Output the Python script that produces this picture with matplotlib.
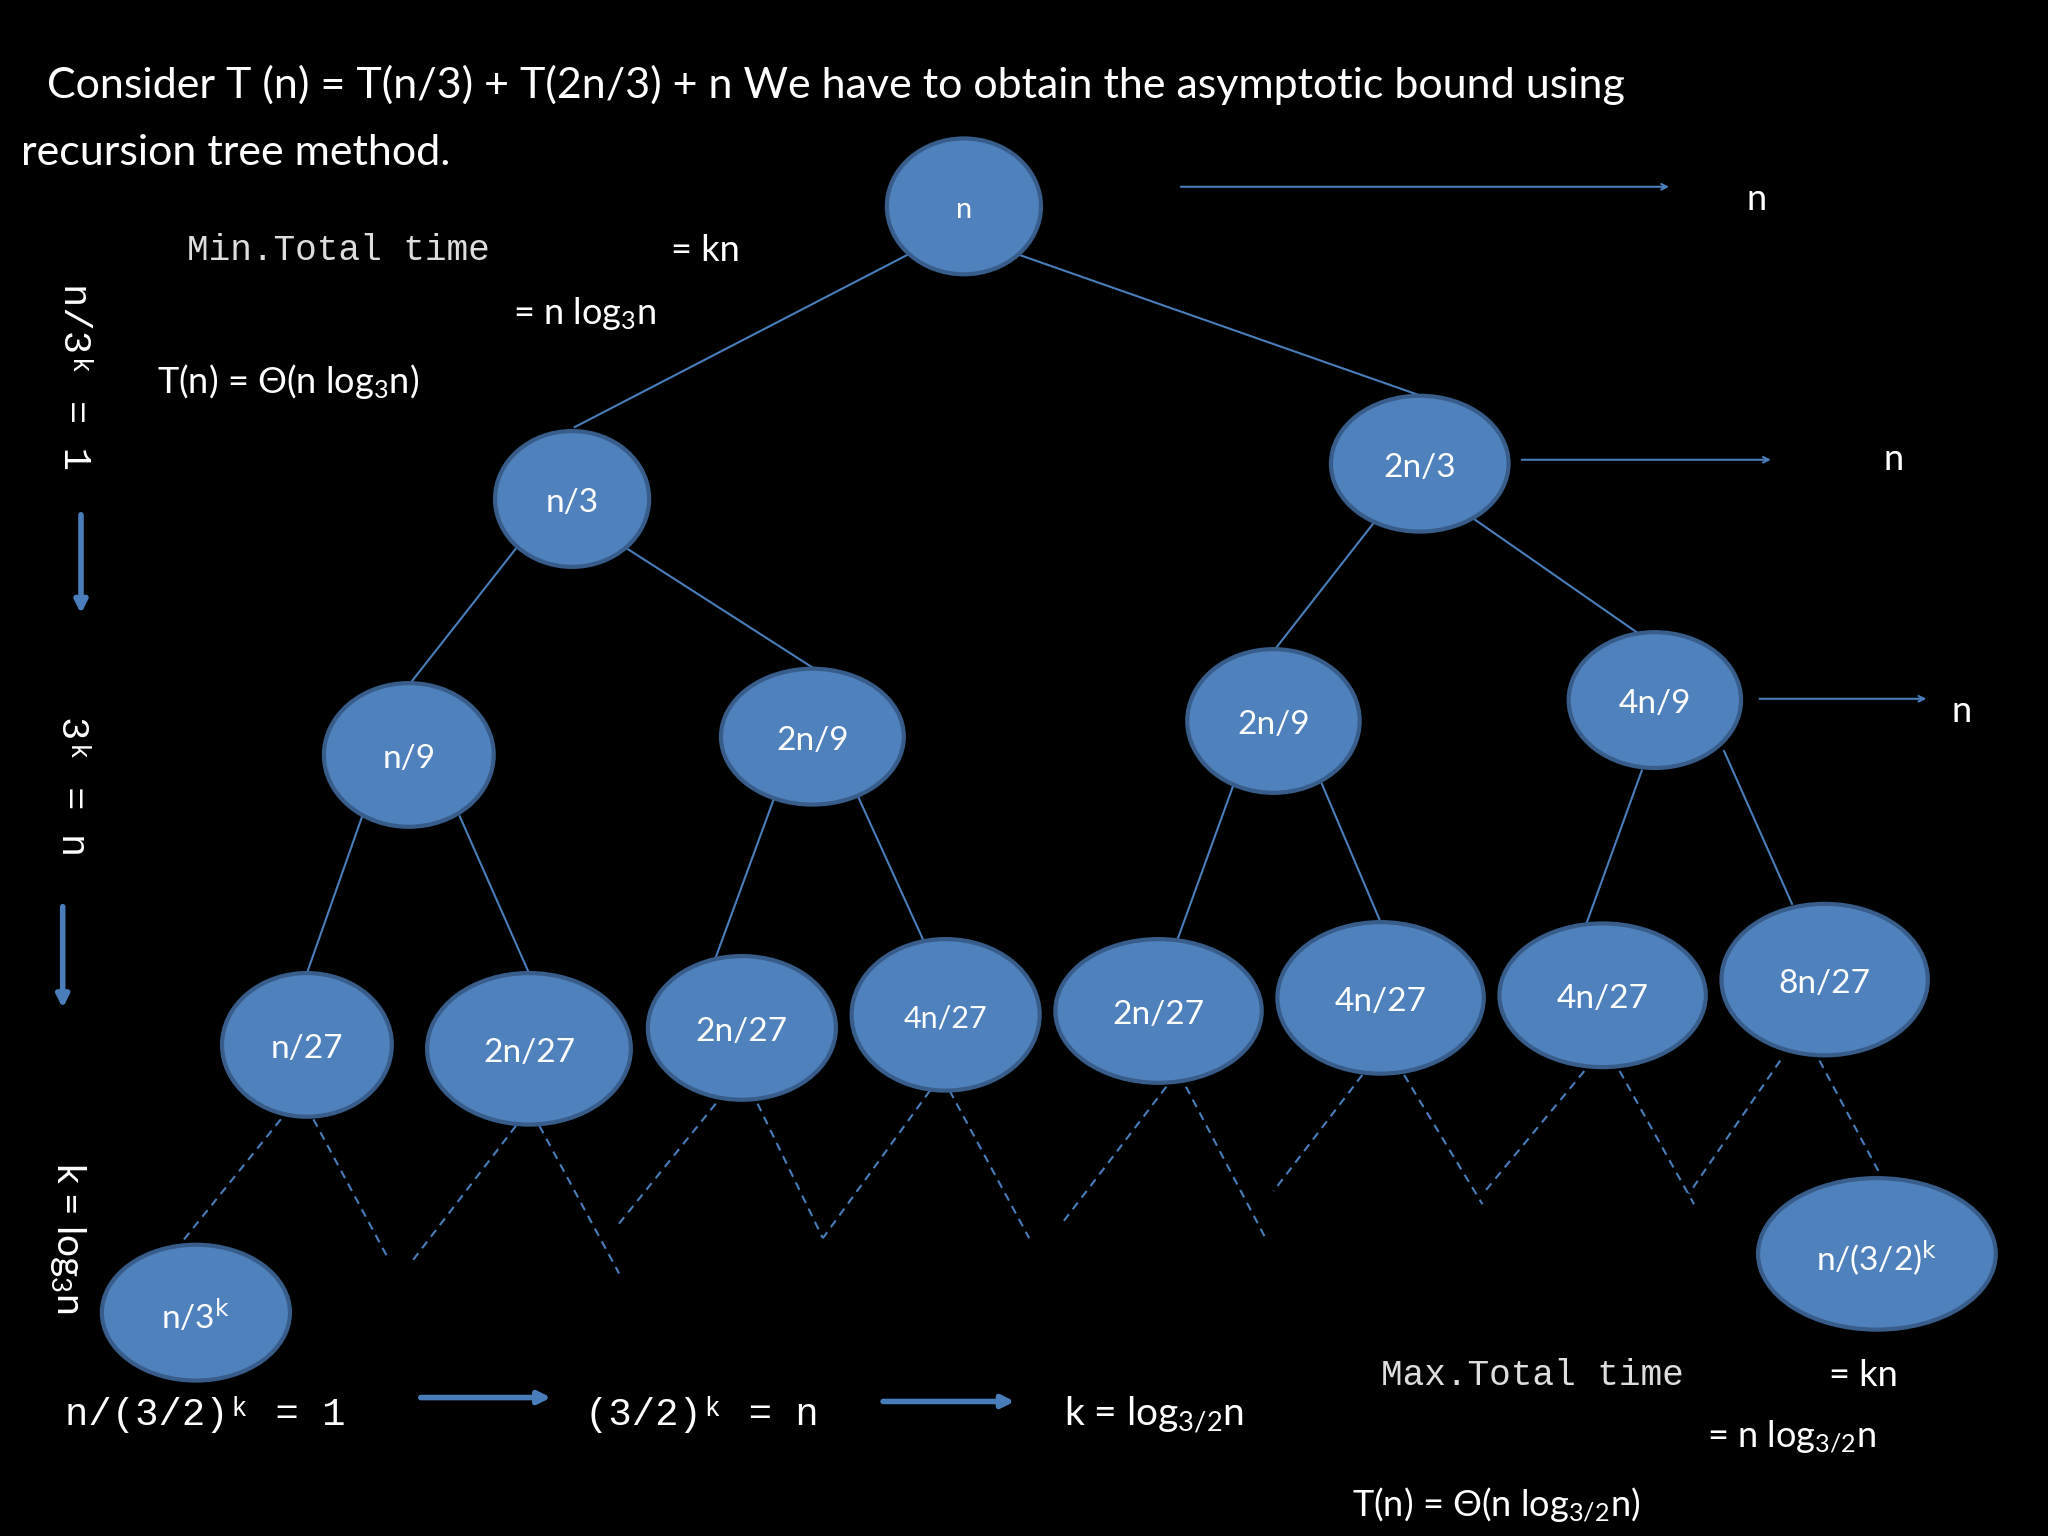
import matplotlib
matplotlib.use("Agg")
import matplotlib.pyplot as plt
from matplotlib.patches import Ellipse

plt.rcParams['font.family'] = ['Lato', 'DejaVu Sans']
plt.rcParams['mathtext.fontset'] = 'custom'
plt.rcParams['mathtext.rm'] = 'Lato'
plt.rcParams['mathtext.it'] = 'Lato'

W, H = 1568, 1176
FILL, EDGE, LINE = "#4f81bd", "#385d8a", "#4a7ebb"
MONO = "Liberation Mono"

# nodes: label, x, y, width, height
node_labels = ["n", "n/3", "2n/3", "n/9", "2n/9", "2n/9", "4n/9",
               "n/27", "2n/27", "2n/27", "4n/27", "2n/27", "4n/27", "4n/27", "8n/27",
               "n/3$^{\\mathsf{k}}$", "n/(3/2)$^{\\mathsf{k}}$"]
node_x = [738, 438, 1087, 313, 622, 975, 1267, 235, 405, 568, 724, 887, 1057, 1227, 1397, 150, 1437]
node_y = [158, 382, 355, 578, 564, 552, 536, 800, 803, 787, 777, 774, 764, 762, 750, 1005, 960]
node_w = [118, 118, 136, 130, 140, 132, 132, 130, 156, 144, 144, 158, 158, 158, 158, 144, 182]
node_h = [104, 104, 104, 110, 104, 110, 104, 110, 116, 110, 116, 110, 116, 110, 116, 104, 116]
node_fs = [17, 20, 20, 20, 20, 20, 20, 20, 20, 20, 18, 20, 20, 20, 20, 20, 20]

solid_edges = [((695, 195), (440, 327)), ((780, 195), (1085, 302)),
               ((395, 420), (315, 522)), ((480, 420), (622, 511)),
               ((1052, 400), (977, 496)), ((1128, 397), (1253, 484)),
               ((278, 623), (235, 745)), ((352, 625), (405, 745)),
               ((592, 613), (548, 733)), ((657, 610), (707, 720)),
               ((944, 602), (902, 718)), ((1012, 600), (1057, 706)),
               ((1257, 590), (1215, 706)), ((1320, 575), (1372, 692))]
dashed_edges = [((215, 857), (140, 950)), ((240, 857), (298, 965)),
                ((395, 862), (316, 965)), ((413, 862), (474, 975)),
                ((548, 845), (473, 938)), ((580, 845), (630, 948)),
                ((712, 835), (630, 948)), ((727, 835), (788, 948)),
                ((893, 832), (812, 938)), ((908, 832), (970, 950)),
                ((1043, 823), (975, 912)), ((1075, 823), (1135, 922)),
                ((1213, 820), (1137, 912)), ((1240, 820), (1297, 922)),
                ((1363, 812), (1293, 914)), ((1393, 812), (1440, 900))]
level_arrows = [((902, 143), (1280, 143)), ((1163, 352), (1358, 352)), ((1345, 535), (1477, 535))]
level_sums = [(1345, 153), (1450, 352), (1502, 545)]

fig = plt.figure(figsize=(20.48, 15.36), dpi=100, facecolor="black")
ax = fig.add_axes([0, 0, 1, 1])
ax.set_xlim(0, W)
ax.set_ylim(H, 0)
ax.set_facecolor("black")
ax.axis("off")

for (a, b) in solid_edges:
    ax.plot([a[0], b[0]], [a[1], b[1]], color=LINE, lw=1.5)
for (a, b) in dashed_edges:
    ax.plot([a[0], b[0]], [a[1], b[1]], color=LINE, lw=1.5, ls=(0, (4, 3)))
for (a, b) in level_arrows:
    ax.annotate("", xy=b, xytext=a, arrowprops=dict(arrowstyle="->", color=LINE, lw=1.5))
for (x, y) in level_sums:
    ax.text(x, y, "n", color="white", fontsize=26, ha="center", va="center")

for lab, x, y, w, h, fs in zip(node_labels, node_x, node_y, node_w, node_h, node_fs):
    ax.add_patch(Ellipse((x, y), w, h, facecolor=FILL, edgecolor=EDGE, lw=3, zorder=3))
    ax.text(x, y + 3, lab, color="white", fontsize=fs + 4, ha="center", va="center", zorder=4)

# title
ax.text(36, 65, "Consider T (n) = T(n/3) + T(2n/3) + n We have to obtain the asymptotic bound using",
        color="white", fontsize=31, va="center")
ax.text(16, 117, "recursion tree method.", color="white", fontsize=31, va="center")

# min total time block
ax.text(143, 192, "Min.Total time", color="#dddddd", fontsize=26, family=MONO, va="center")
ax.text(514, 192, "= kn", color="white", fontsize=26, va="center")
ax.text(393, 240, "= n log$_3$n", color="white", fontsize=26, va="center")
ax.text(120, 292, "T(n) = Θ(n log$_3$n)", color="white", fontsize=26, va="center")

# max total time block
ax.text(1057, 1053, "Max.Total time", color="#dddddd", fontsize=26, family=MONO, va="center")
ax.text(1400, 1053, "= kn", color="white", fontsize=26, va="center")
ax.text(1307, 1100, "= n log$_{3/2}$n", color="white", fontsize=26, va="center")
ax.text(1035, 1152, "T(n) = Θ(n log$_{3/2}$n)", color="white", fontsize=26, va="center")

# left vertical derivation
ax.text(57, 288, "n/3ᵏ = 1", color="white", fontsize=28, family=MONO, rotation=-90,
        ha="center", va="center")
ax.annotate("", xy=(62, 472), xytext=(62, 392),
            arrowprops=dict(arrowstyle="-|>", color=LINE, lw=4, mutation_scale=18))
ax.text(55, 602, "3ᵏ = n", color="white", fontsize=28, family=MONO, rotation=-90,
        ha="center", va="center")
ax.annotate("", xy=(48, 774), xytext=(48, 692),
            arrowprops=dict(arrowstyle="-|>", color=LINE, lw=4, mutation_scale=18))
ax.text(52, 948, "k = log$_3$n", color="white", fontsize=28, rotation=-90,
        ha="center", va="center")

# bottom derivation
ax.text(50, 1083, "n/(3/2)ᵏ = 1", color="white", fontsize=28, family=MONO, va="center")
ax.annotate("", xy=(424, 1070), xytext=(320, 1070),
            arrowprops=dict(arrowstyle="-|>", color=LINE, lw=4, mutation_scale=18))
ax.text(448, 1083, "(3/2)ᵏ = n", color="white", fontsize=28, family=MONO, va="center")
ax.annotate("", xy=(779, 1073), xytext=(674, 1073),
            arrowprops=dict(arrowstyle="-|>", color=LINE, lw=4, mutation_scale=18))
ax.text(815, 1083, "k = log$_{3/2}$n", color="white", fontsize=28, va="center")

fig.savefig("out.png", dpi=100, facecolor="black")
